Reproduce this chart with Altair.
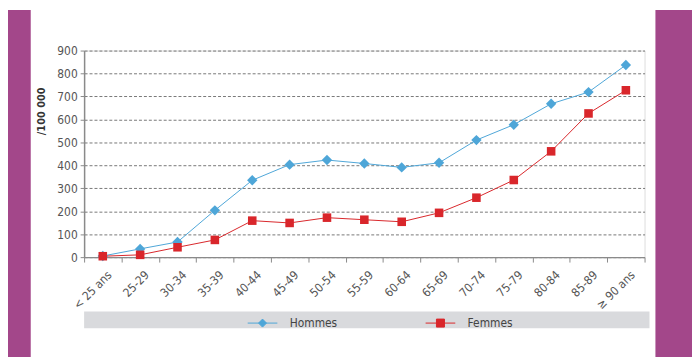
import altair as alt
import pandas as pd

ages = ["< 25 ans", "25-29", "30-34", "35-39", "40-44", "45-49", "50-54", "55-59",
        "60-64", "65-69", "70-74", "75-79", "80-84", "85-89", "≥ 90 ans"]
hommes = [5, 36, 66, 204, 335, 403, 423, 408, 391, 411, 510, 577, 668, 719, 837]
femmes = [4, 10, 43, 75, 159, 149, 172, 163, 154, 193, 259, 336, 461, 626, 727]
series = ["Hommes", "Femmes"]
colors = ["#4ea6d8", "#d9262b"]

rows = []
for a, h, f in zip(ages, hommes, femmes):
    rows.append({"age": a, "serie": "Hommes", "value": h})
    rows.append({"age": a, "serie": "Femmes", "value": f})
df = pd.DataFrame(rows)

FONT = "'Liberation Sans Narrow', 'DejaVu Sans Condensed', Roboto, sans-serif"

x = alt.X("age:N", sort=ages, title=None,
          scale=alt.Scale(paddingInner=0, paddingOuter=0),
          axis=alt.Axis(labelAngle=-45, labelFontSize=12, labelColor="#555",
                        domainColor="#8a8a8a", domainWidth=1.5, tickColor="#8a8a8a",
                        tickSize=5, tickBand="extent", labelPadding=7, labelOffset=3,
                        grid=False))
y = alt.Y("value:Q", title="/100 000",
          scale=alt.Scale(domain=[0, 900], nice=False),
          axis=alt.Axis(values=list(range(0, 901, 100)), labelFontSize=12, labelColor="#555",
                        domainColor="#8a8a8a", domainWidth=1.5, tickColor="#8a8a8a",
                        tickSize=4, labelPadding=3,
                        gridColor="#555", gridDash=[3, 2], gridWidth=0.8,
                        titleFontSize=11, titleFontWeight="bold", titleColor="#333",
                        titleAngle=270, titleX=-43, titleY=61, titleAlign="center",
                        titleBaseline="middle"))

color_scale = alt.Scale(domain=series, range=colors)

sym_shape = ("datum.value === 'Hommes' ? "
             "'M-1,0L1,0M0,-0.27L0.27,0L0,0.27L-0.27,0Z' "
             ": 'M-1,0L1,0M-0.27,-0.27L0.27,-0.27L0.27,0.27L-0.27,0.27Z'")
sym_color = "datum.value === 'Hommes' ? '#4ea6d8' : '#d9262b'"

legend = alt.Legend(
    orient="none", legendX=165, legendY=260, direction="horizontal", title=None,
    labelFontSize=12, labelColor="#444", labelFont=FONT, symbolSize=900,
    symbolStrokeWidth=1, labelOffset=12, columnPadding=86,
    symbolType=alt.ExprRef(expr=sym_shape),
    symbolFillColor=alt.ExprRef(expr=sym_color),
    symbolStrokeColor=alt.ExprRef(expr=sym_color),
    symbolOpacity=1)

lines = alt.Chart(df).mark_line(strokeWidth=1).encode(
    x=x, y=y,
    color=alt.Color("serie:N", scale=color_scale, sort=series, legend=legend))

pts_h = alt.Chart(df).transform_filter(alt.datum.serie == "Hommes").mark_point(
    filled=True, opacity=1, shape="diamond", size=110, color=colors[0]
).encode(x=x, y=y)
pts_f = alt.Chart(df).transform_filter(alt.datum.serie == "Femmes").mark_point(
    filled=True, opacity=1, shape="square", size=75, color=colors[1]
).encode(x=x, y=y)

bg = pd.DataFrame({"k": [0]})
purple = "#a3478a"
left_band = alt.Chart(bg).mark_rect(color=purple).encode(
    x=alt.value(-77), x2=alt.value(-54), y=alt.value(-41), y2=alt.value(310))
right_band = alt.Chart(bg).mark_rect(color=purple).encode(
    x=alt.value(578), x2=alt.value(615), y=alt.value(-41), y2=alt.value(310))
legend_bar = alt.Chart(bg).mark_rect(color="#d9dadd").encode(
    x=alt.value(0), x2=alt.value(572), y=alt.value(264), y2=alt.value(281))

chart = alt.layer(left_band, right_band, legend_bar, lines, pts_h, pts_f).properties(
    width=567, height=209,
    autosize=alt.AutoSizeParams(type="none"),
    padding={"left": 77, "top": 41, "right": 48, "bottom": 101},
    background="white",
).configure_view(
    stroke="#555", strokeDash=[3, 2], strokeWidth=0.8
).configure(font=FONT)

chart.save("out.html", embed_options={"renderer": "svg", "actions": False})
